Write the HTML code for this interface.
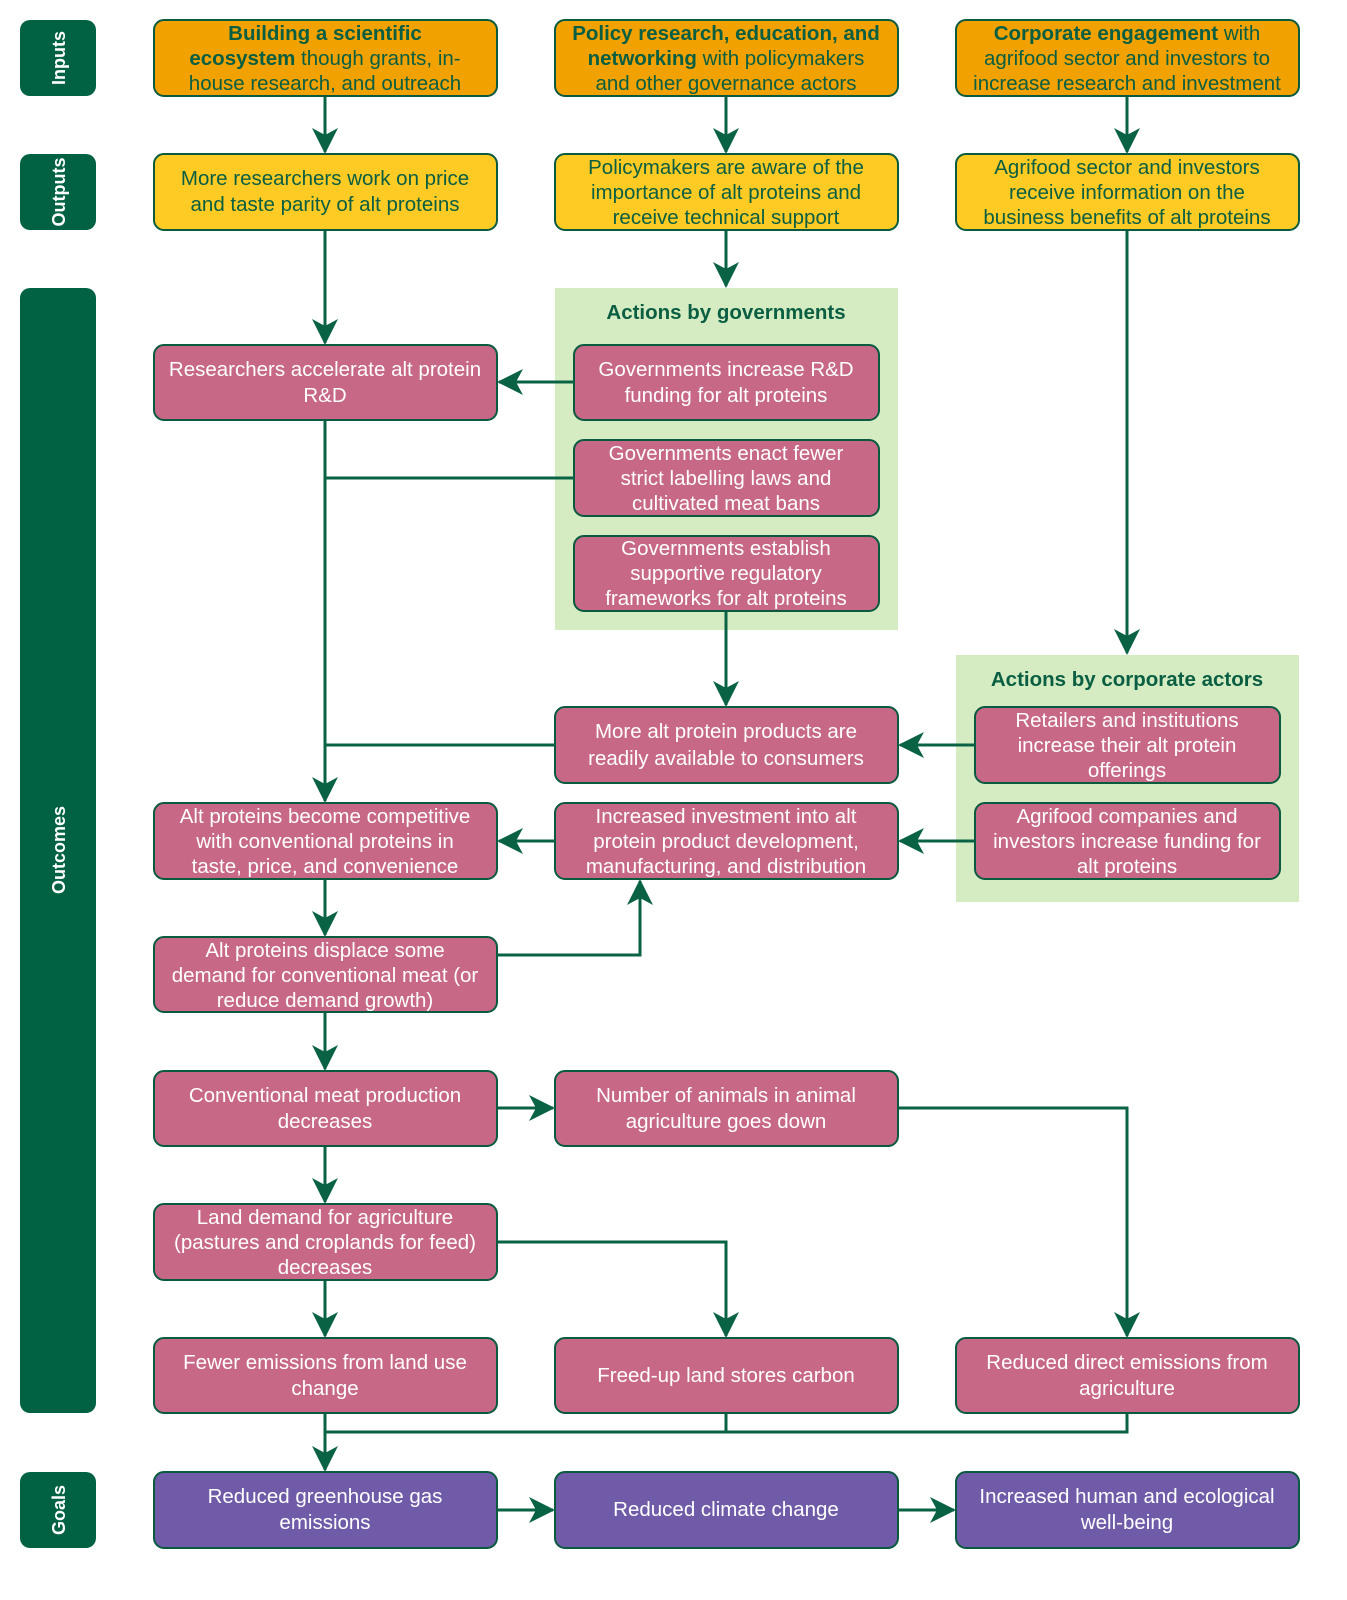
<!DOCTYPE html>
<html><head><meta charset="utf-8"><style>
html,body{margin:0;padding:0;background:#fff;overflow:hidden;width:1347px;height:1600px;}
svg{display:block;font-family:"Liberation Sans",sans-serif;}
.t{font-size:20.5px;text-anchor:middle;}
.w{fill:#fff;}
.g{fill:#0a5e42;}
.b{font-weight:bold;}
.ln{stroke:#0a6244;stroke-width:3;fill:none;}
.bx{stroke:#0a5a40;stroke-width:2;}
</style></head><body>
<svg width="1347" height="1600" viewBox="0 0 1347 1600" xmlns="http://www.w3.org/2000/svg">
<defs>
<marker id="a" markerUnits="userSpaceOnUse" viewBox="0 0 26 26" markerWidth="26" markerHeight="26" refX="24" refY="13" orient="auto">
<path d="M0,0 L26,13 L0,26 L7,13 z" fill="#0a6244"/>
</marker>
</defs>

<g fill="#016243">
<rect x="20" y="20" width="76" height="76" rx="10"/>
<rect x="20" y="154" width="76" height="76" rx="10"/>
<rect x="20" y="288" width="76" height="1125" rx="10"/>
<rect x="20" y="1472" width="76" height="76" rx="10"/>
</g>
<g class="w b" style="font-size:18px" text-anchor="middle">
<text transform="translate(65,58) rotate(-90)">Inputs</text>
<text transform="translate(65,192) rotate(-90)">Outputs</text>
<text transform="translate(65,850) rotate(-90)">Outcomes</text>
<text transform="translate(65,1510) rotate(-90)">Goals</text>
</g>

<rect x="555" y="288" width="343" height="342" fill="#d5ecc3"/>
<rect x="956" y="655" width="343" height="247" fill="#d5ecc3"/>
<text x="726" y="319" class="t g b" style="font-size:20.5px">Actions by governments</text>
<text x="1127" y="686" class="t g b" style="font-size:20.5px">Actions by corporate actors</text>

<g class="bx" fill="#f2a200">
<rect x="154" y="20" width="343" height="76" rx="10"/>
<rect x="555" y="20" width="343" height="76" rx="10"/>
<rect x="956" y="20" width="343" height="76" rx="10"/>
</g>
<g class="t g">
<text x="325" y="40"><tspan class="b">Building a scientific</tspan></text>
<text x="325" y="65"><tspan class="b">ecosystem</tspan> though grants, in-</text>
<text x="325" y="90">house research, and outreach</text>
<text x="726" y="40"><tspan class="b">Policy research, education, and</tspan></text>
<text x="726" y="65"><tspan class="b">networking</tspan> with policymakers</text>
<text x="726" y="90">and other governance actors</text>
<text x="1127" y="40"><tspan class="b">Corporate engagement</tspan> with</text>
<text x="1127" y="65">agrifood sector and investors to</text>
<text x="1127" y="90">increase research and investment</text>
</g>

<g class="bx" fill="#fdcb23">
<rect x="154" y="154" width="343" height="76" rx="10"/>
<rect x="555" y="154" width="343" height="76" rx="10"/>
<rect x="956" y="154" width="343" height="76" rx="10"/>
</g>
<g class="t g">
<text x="325" y="185">More researchers work on price</text>
<text x="325" y="211">and taste parity of alt proteins</text>
<text x="726" y="174">Policymakers are aware of the</text>
<text x="726" y="199">importance of alt proteins and</text>
<text x="726" y="224">receive technical support</text>
<text x="1127" y="174">Agrifood sector and investors</text>
<text x="1127" y="199">receive information on the</text>
<text x="1127" y="224">business benefits of alt proteins</text>
</g>

<g class="bx" fill="#c76886">
<rect x="154" y="345" width="343" height="75" rx="10"/>
<rect x="574" y="345" width="305" height="75" rx="10"/>
<rect x="574" y="440" width="305" height="76" rx="10"/>
<rect x="574" y="536" width="305" height="75" rx="10"/>
<rect x="555" y="707" width="343" height="76" rx="10"/>
<rect x="975" y="707" width="305" height="76" rx="10"/>
<rect x="154" y="803" width="343" height="76" rx="10"/>
<rect x="555" y="803" width="343" height="76" rx="10"/>
<rect x="975" y="803" width="305" height="76" rx="10"/>
<rect x="154" y="937" width="343" height="75" rx="10"/>
<rect x="154" y="1071" width="343" height="75" rx="10"/>
<rect x="555" y="1071" width="343" height="75" rx="10"/>
<rect x="154" y="1204" width="343" height="76" rx="10"/>
<rect x="154" y="1338" width="343" height="75" rx="10"/>
<rect x="555" y="1338" width="343" height="75" rx="10"/>
<rect x="956" y="1338" width="343" height="75" rx="10"/>
</g>
<g class="bx" fill="#6f5ba8">
<rect x="154" y="1472" width="343" height="76" rx="10"/>
<rect x="555" y="1472" width="343" height="76" rx="10"/>
<rect x="956" y="1472" width="343" height="76" rx="10"/>
</g>
<g class="t w">
<text x="325" y="376">Researchers accelerate alt protein</text>
<text x="325" y="402">R&amp;D</text>
<text x="726" y="376">Governments increase R&amp;D</text>
<text x="726" y="402">funding for alt proteins</text>
<text x="726" y="460">Governments enact fewer</text>
<text x="726" y="485">strict labelling laws and</text>
<text x="726" y="510">cultivated meat bans</text>
<text x="726" y="555">Governments establish</text>
<text x="726" y="580">supportive regulatory</text>
<text x="726" y="605">frameworks for alt proteins</text>
<text x="726" y="738">More alt protein products are</text>
<text x="726" y="765">readily available to consumers</text>
<text x="1127" y="727">Retailers and institutions</text>
<text x="1127" y="752">increase their alt protein</text>
<text x="1127" y="777">offerings</text>
<text x="325" y="823">Alt proteins become competitive</text>
<text x="325" y="848">with conventional proteins in</text>
<text x="325" y="873">taste, price, and convenience</text>
<text x="726" y="823">Increased investment into alt</text>
<text x="726" y="848">protein product development,</text>
<text x="726" y="873">manufacturing, and distribution</text>
<text x="1127" y="823">Agrifood companies and</text>
<text x="1127" y="848">investors increase funding for</text>
<text x="1127" y="873">alt proteins</text>
<text x="325" y="957">Alt proteins displace some</text>
<text x="325" y="982">demand for conventional meat (or</text>
<text x="325" y="1007">reduce demand growth)</text>
<text x="325" y="1102">Conventional meat production</text>
<text x="325" y="1128">decreases</text>
<text x="726" y="1102">Number of animals in animal</text>
<text x="726" y="1128">agriculture goes down</text>
<text x="325" y="1224">Land demand for agriculture</text>
<text x="325" y="1249">(pastures and croplands for feed)</text>
<text x="325" y="1274">decreases</text>
<text x="325" y="1369">Fewer emissions from land use</text>
<text x="325" y="1395">change</text>
<text x="726" y="1382">Freed-up land stores carbon</text>
<text x="1127" y="1369">Reduced direct emissions from</text>
<text x="1127" y="1395">agriculture</text>
<text x="325" y="1503">Reduced greenhouse gas</text>
<text x="325" y="1529">emissions</text>
<text x="726" y="1516">Reduced climate change</text>
<text x="1127" y="1503">Increased human and ecological</text>
<text x="1127" y="1529">well-being</text>
</g>

<g class="ln">
<path d="M325,97 V152" marker-end="url(#a)"/>
<path d="M726,97 V152" marker-end="url(#a)"/>
<path d="M1127,97 V152" marker-end="url(#a)"/>
<path d="M325,231 V343" marker-end="url(#a)"/>
<path d="M726,231 V286" marker-end="url(#a)"/>
<path d="M1127,231 V653" marker-end="url(#a)"/>
<path d="M574,382 H499" marker-end="url(#a)"/>
<path d="M325,421 V801" marker-end="url(#a)"/>
<path d="M574,478 H325"/>
<path d="M555,745 H325"/>
<path d="M726,612 V705" marker-end="url(#a)"/>
<path d="M975,745 H900" marker-end="url(#a)"/>
<path d="M975,841 H900" marker-end="url(#a)"/>
<path d="M555,841 H499" marker-end="url(#a)"/>
<path d="M325,880 V935" marker-end="url(#a)"/>
<path d="M498,955 H640 V881" marker-end="url(#a)"/>
<path d="M325,1013 V1069" marker-end="url(#a)"/>
<path d="M498,1108 H553" marker-end="url(#a)"/>
<path d="M899,1108 H1127 V1336" marker-end="url(#a)"/>
<path d="M325,1147 V1202" marker-end="url(#a)"/>
<path d="M498,1242 H726 V1336" marker-end="url(#a)"/>
<path d="M325,1281 V1336" marker-end="url(#a)"/>
<path d="M325,1414 V1470" marker-end="url(#a)"/>
<path d="M726,1414 V1432 H325"/>
<path d="M1127,1414 V1432 H726"/>
<path d="M498,1510 H553" marker-end="url(#a)"/>
<path d="M899,1510 H954" marker-end="url(#a)"/>
</g>
</svg>
</body></html>
